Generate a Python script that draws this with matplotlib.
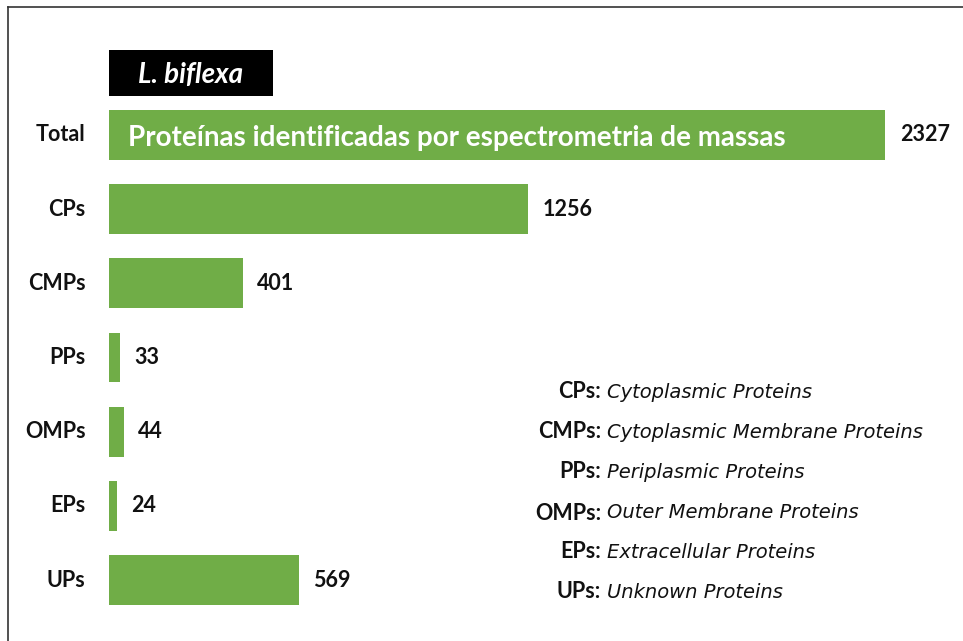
import matplotlib
matplotlib.use("Agg")
import matplotlib.pyplot as plt
from matplotlib.patches import Rectangle
from matplotlib.lines import Line2D

# data
categories = ['Total', 'CPs', 'CMPs', 'PPs', 'OMPs', 'EPs', 'UPs']
counts = [2327, 1256, 401, 33, 44, 24, 569]
legend_abbr = ['CPs:', 'CMPs:', 'PPs:', 'OMPs:', 'EPs:', 'UPs:']
legend_desc = ['Cytoplasmic Proteins', 'Cytoplasmic Membrane Proteins',
               'Periplasmic Proteins', 'Outer Membrane Proteins',
               'Extracellular Proteins', 'Unknown Proteins']
species = 'L. biflexa'
total_note = 'Proteínas identificadas por espectrometria de massas'

GREEN = '#70ad47'
W, H = 963, 641
LABEL_FONT = 'Lato'

fig = plt.figure(figsize=(W / 100, H / 100), dpi=100)
fig.patch.set_facecolor('white')

# axes placed so the bars land where the reference has them
top_px, bot_px = 97.9, 617.1
ax = fig.add_axes([109 / W, 1 - bot_px / H, 834 / W, (bot_px - top_px) / H])
ax.set_xlim(0, 2500)
ax.set_ylim(len(categories) - 0.5, -0.5)
ax.axis('off')

ypos = list(range(len(categories)))
ax.barh(ypos, counts, height=0.674, color=GREEN)

for y, name, v in zip(ypos, categories, counts):
    ax.annotate(name, (0, y), xytext=(-17, 0), textcoords='offset points',
                ha='right', va='center', fontsize=15.5, fontweight='bold',
                family=LABEL_FONT, color='#111111')
    ax.annotate(str(v), (v, y), xytext=(10.5, 0), textcoords='offset points',
                ha='left', va='center', fontsize=15.5, fontweight='bold',
                family=LABEL_FONT, color='#111111')

ax.annotate(total_note, (0, 0), xytext=(13.5, -2), textcoords='offset points',
            ha='left', va='center', fontsize=20, fontweight='bold',
            family=LABEL_FONT, color='white')

# black species tag
fig.add_artist(Rectangle((109 / W, 1 - 96 / H), 164 / W, 46 / H,
                         transform=fig.transFigure, facecolor='black',
                         edgecolor='none'))
fig.text(191 / W, 1 - 75 / H, species, ha='center', va='center',
         fontsize=20, fontweight='bold', style='italic', family=LABEL_FONT,
         color='white')

# legend of abbreviations
leg_y = [392, 432, 472, 513, 552, 592]
for y, a, d in zip(leg_y, legend_abbr, legend_desc):
    fig.text(601 / W, 1 - y / H, a, ha='right', va='center', fontsize=15.5,
             fontweight='bold', family=LABEL_FONT, color='#111111')
    fig.text(607 / W, 1 - y / H, d, ha='left', va='center', fontsize=14,
             style='italic', family='DejaVu Sans', color='#111111')

# frame lines (left and top edges)
fig.add_artist(Line2D([8 / W, 8 / W], [0, 1 - 7 / H], transform=fig.transFigure,
                      color='#333333', linewidth=1.2))
fig.add_artist(Line2D([8 / W, 1], [1 - 7 / H, 1 - 7 / H], transform=fig.transFigure,
                      color='#333333', linewidth=1.2))

fig.savefig('out.png', dpi=100)
